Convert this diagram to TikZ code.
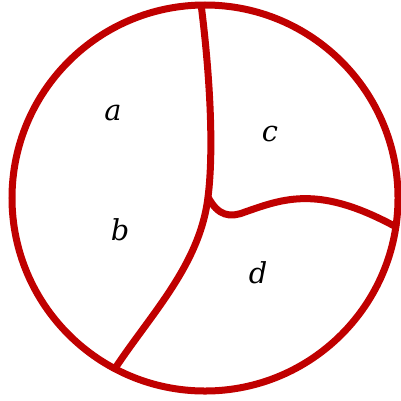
\documentclass[tikz,border=0pt]{standalone}
\usepackage{fontspec}
\setmainfont{DejaVu Serif}
\definecolor{rimred}{HTML}{C00000}
\begin{document}
\begin{tikzpicture}[x=0.01cm,y=-0.01cm,
  edge/.style={draw=rimred,line width=0.07cm},
  lbl/.style={font=\fontsize{8.2pt}{10pt}\selectfont\itshape,inner sep=0pt}]
\useasboundingbox (0,0) rectangle (401,400);
\coordinate (O) at (205,198);
\draw[edge] (O) circle[radius=193];
\coordinate (T) at (201,4);
\coordinate (J) at (208,197);
\coordinate (BL) at (114,370);
\coordinate (M) at (245,212);
\coordinate (R) at (398,228);
\draw[edge] (T) .. controls (210,75) and (214,150) .. (J)
  .. controls (200,265) and (150,315) .. (BL);
\draw[edge] (J) .. controls (218,216) and (230,218) .. (M)
  .. controls (285,198) and (320,185) .. (R);
\node[lbl] (a) at (113,113) {a};
\node[lbl] (b) at (120,230) {b};
\node[lbl] (c) at (270,134) {c};
\node[lbl] (d) at (258,273) {d};
\end{tikzpicture}
\end{document}
